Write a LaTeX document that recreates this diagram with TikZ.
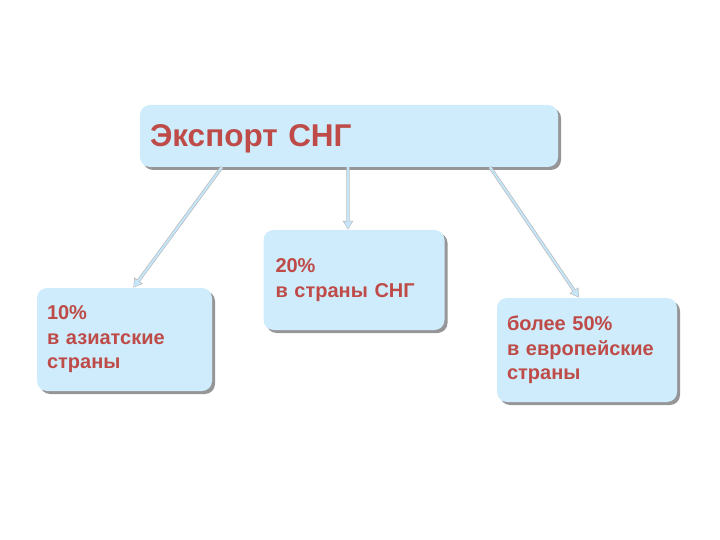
\documentclass[tikz,border=0pt]{standalone}
\usepackage{fontspec}
\setmainfont{Liberation Sans}
\usepackage{tikz}
\usetikzlibrary{positioning,arrows.meta,shadows,calc}
\definecolor{boxblue}{RGB}{206,236,251}
\definecolor{textred}{RGB}{190,75,72}
\definecolor{shadowgray}{RGB}{150,150,152}
\definecolor{arrowblue}{RGB}{196,230,248}
\tikzset{
    exportbox/.style={fill=boxblue, rounded corners=10pt, align=left, inner xsep=10pt, text=textred,
        font=\bfseries\fontsize{20}{24.5}\selectfont,
        drop shadow={shadow xshift=3pt, shadow yshift=-3pt, fill=shadowgray, opacity=1}},
    exportedge/.style={draw=gray!55, line width=3.4pt, -{Triangle[length=9pt, width=10pt]}},
    exportarrow/.style={draw=arrowblue, line width=2pt, -{Triangle[length=7.5pt, width=7.5pt]}, shorten >=0.8pt}
}

\begin{document}
\begin{tikzpicture}[x=1pt, y=-1pt]
    \useasboundingbox (0,0) rectangle (720,540);
    \node[exportbox, minimum width=418pt, minimum height=62pt, text width=398pt, text depth=0pt,
        font=\bfseries\fontsize{31.5}{36}\selectfont] (export) at (349,136) {Экспорт СНГ};
    \node[exportbox, minimum width=175pt, minimum height=103pt, text width=155pt] (asia) at (124.5,339.5)
        {10\%\\в азиатские\\страны};
    \node[exportbox, minimum width=180pt, minimum height=100pt, text width=157pt, inner xsep=12pt] (cis) at (354,280)
        {20\%\\в страны СНГ};
    \node[exportbox, minimum width=180pt, minimum height=104pt, text width=160pt] (europe) at (587,350)
        {более 50\%\\в европейские\\страны};

    \foreach \from/\to/\tofrac in {0.196/asia/0.55, 0.4976/cis/0.467, 0.837/europe/0.456} {
        \draw[exportedge] ($(export.south west)!\from!(export.south east)$) -- ($(\to.north west)!\tofrac!(\to.north east)$);
        \draw[exportarrow] ($(export.south west)!\from!(export.south east)$) -- ($(\to.north west)!\tofrac!(\to.north east)$);
    }
\end{tikzpicture}
\end{document}
